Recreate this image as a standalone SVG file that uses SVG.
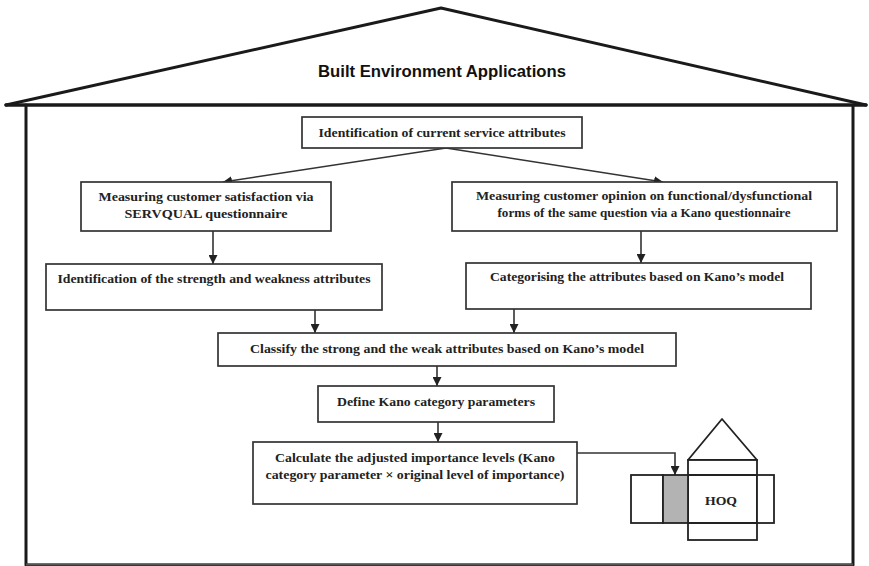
<svg xmlns="http://www.w3.org/2000/svg" width="869" height="566" viewBox="0 0 869 566">
  <style>
    .box { fill: #fff; stroke: #333; stroke-width: 1.7; }
    .lbl { font-family: "Liberation Serif", "Times New Roman", serif; font-size: 13.5px; font-weight: bold; fill: #222; text-anchor: middle; }
    .title { font-family: "Liberation Sans", Arial, sans-serif; font-size: 16.5px; font-weight: bold; fill: #111; text-anchor: middle; }
    .edge { fill: none; stroke: #333; stroke-width: 1.6; }
    .frame { fill: none; stroke: #1a1a1a; stroke-linecap: round; stroke-linejoin: round; }
  </style>
  <defs>
    <marker id="arrow" viewBox="0 0 10 10" refX="10" refY="5" markerWidth="9" markerHeight="9" markerUnits="userSpaceOnUse" orient="auto">
      <path d="M0,0 L10,5 L0,10 Z" fill="#222"/>
    </marker>
  </defs>
  <rect width="869" height="566" fill="#fff"/>

  <!-- house outline: roof, eaves, walls and floor -->
  <g id="house">
    <polyline class="frame" points="6,105 441,8 866,105" stroke-width="3"/>
    <line class="frame" x1="6" y1="105" x2="866" y2="105" stroke-width="3.5"/>
    <polyline class="frame" points="26,105 26,565 853,565 853,105" stroke-width="3"/>
    <line x1="26" y1="564.5" x2="853" y2="564.5" stroke="#555" stroke-width="2"/>
    <text class="title" x="442" y="77" textLength="248" lengthAdjust="spacingAndGlyphs">Built Environment Applications</text>
  </g>

  <!-- connectors -->
  <g id="connectors">
    <line class="edge" x1="446" y1="148" x2="223" y2="182" marker-end="url(#arrow)"/>
    <line class="edge" x1="446" y1="148" x2="663" y2="182" marker-end="url(#arrow)"/>
    <line class="edge" x1="213" y1="231" x2="213" y2="264" marker-end="url(#arrow)"/>
    <line class="edge" x1="641" y1="231" x2="641" y2="263" marker-end="url(#arrow)"/>
    <line class="edge" x1="315" y1="310" x2="315" y2="333" marker-end="url(#arrow)"/>
    <line class="edge" x1="514" y1="309" x2="514" y2="333" marker-end="url(#arrow)"/>
    <line class="edge" x1="437" y1="366" x2="437" y2="386" marker-end="url(#arrow)"/>
    <line class="edge" x1="438" y1="422" x2="438" y2="442" marker-end="url(#arrow)"/>
    <polyline class="edge" points="577,453 675,453 675,475" marker-end="url(#arrow)"/>
  </g>

  <g id="n-current">
    <rect class="box" x="302" y="117" width="280" height="31"/>
    <text class="lbl" x="442" y="137" textLength="247" lengthAdjust="spacingAndGlyphs">Identification of current service attributes</text>
  </g>

  <g id="n-servqual">
    <rect class="box" x="81" y="182" width="250" height="49"/>
    <text class="lbl" x="206" y="201" textLength="215" lengthAdjust="spacingAndGlyphs">Measuring customer satisfaction via</text>
    <text class="lbl" x="206" y="218" textLength="163" lengthAdjust="spacingAndGlyphs">SERVQUAL questionnaire</text>
  </g>

  <g id="n-kano-q">
    <rect class="box" x="452" y="182" width="385" height="49"/>
    <text class="lbl" x="644" y="200" textLength="336" lengthAdjust="spacingAndGlyphs">Measuring customer opinion on functional/dysfunctional</text>
    <text class="lbl" x="644" y="217" textLength="293" lengthAdjust="spacingAndGlyphs">forms of the same question via a Kano questionnaire</text>
  </g>

  <g id="n-strength">
    <rect class="box" x="46" y="264" width="336" height="46"/>
    <text class="lbl" x="214" y="283" textLength="313" lengthAdjust="spacingAndGlyphs">Identification of the strength and weakness attributes</text>
  </g>

  <g id="n-categorise">
    <rect class="box" x="466" y="263" width="345" height="46"/>
    <text class="lbl" x="637" y="281" textLength="294" lengthAdjust="spacingAndGlyphs">Categorising the attributes based on Kano’s model</text>
  </g>

  <g id="n-classify">
    <rect class="box" x="218" y="333" width="458" height="33"/>
    <text class="lbl" x="447" y="353" textLength="394" lengthAdjust="spacingAndGlyphs">Classify the strong and the weak attributes based on Kano’s model</text>
  </g>

  <g id="n-define">
    <rect class="box" x="318" y="386" width="236" height="36"/>
    <text class="lbl" x="436" y="406" textLength="198" lengthAdjust="spacingAndGlyphs">Define Kano category parameters</text>
  </g>

  <g id="n-calculate">
    <rect class="box" x="253" y="442" width="324" height="62"/>
    <text class="lbl" x="415" y="462" textLength="280" lengthAdjust="spacingAndGlyphs">Calculate the adjusted importance levels (Kano</text>
    <text class="lbl" x="415" y="479" textLength="299" lengthAdjust="spacingAndGlyphs">category parameter × original level of importance)</text>
  </g>

  <!-- house of quality sketch -->
  <g id="n-hoq">
    <polygon points="688,460 722,419 757,460" fill="#fff" stroke="#222" stroke-width="1.8" stroke-linejoin="round"/>
    <rect x="688" y="460" width="69" height="80" fill="#fff" stroke="#222" stroke-width="1.8"/>
    <rect x="631" y="475" width="32" height="48" fill="#fff" stroke="#222" stroke-width="1.8"/>
    <rect x="663" y="475" width="25" height="48" fill="#b3b3b3" stroke="#222" stroke-width="1.8"/>
    <rect x="757" y="475" width="17" height="48" fill="#fff" stroke="#222" stroke-width="1.8"/>
    <line x1="688" y1="475" x2="757" y2="475" stroke="#222" stroke-width="1.8"/>
    <line x1="688" y1="523" x2="757" y2="523" stroke="#222" stroke-width="1.8"/>
    <text class="lbl" x="721" y="505" textLength="32" lengthAdjust="spacingAndGlyphs">HOQ</text>
  </g>
</svg>
